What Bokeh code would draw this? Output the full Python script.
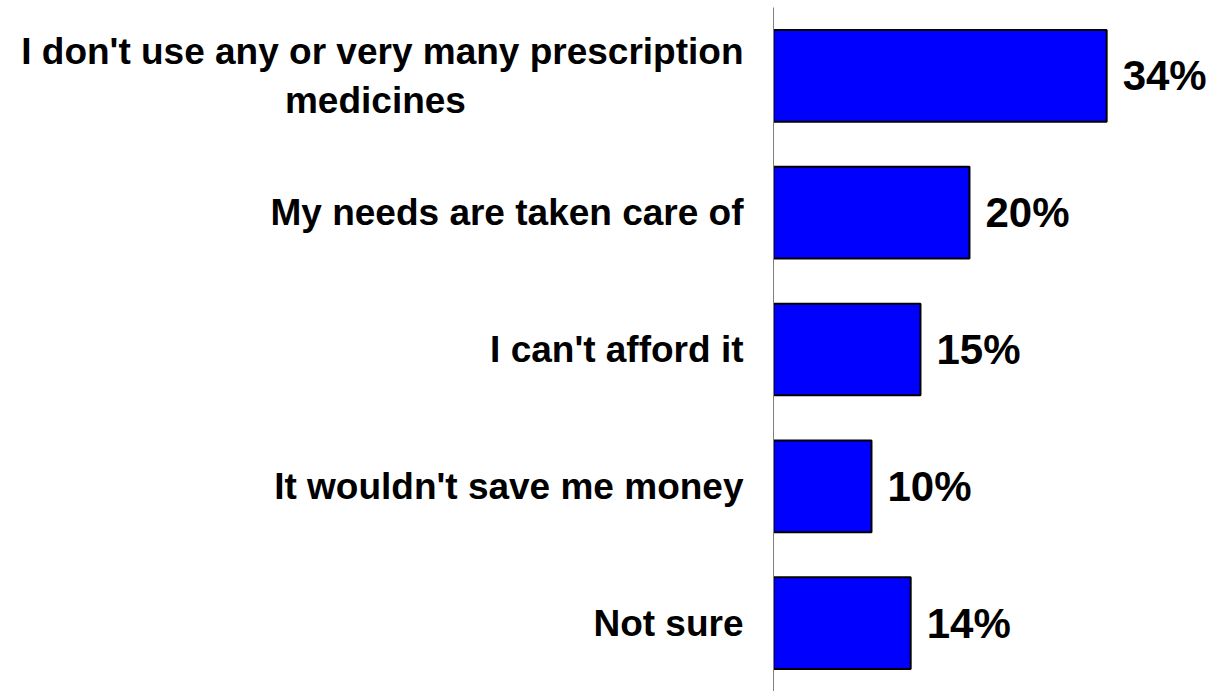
from bokeh.plotting import figure
from bokeh.models import ColumnDataSource, FactorRange, Range1d
from bokeh.embed import file_html
from bokeh.resources import INLINE
from bokeh.core.properties import value

NB = "\u00a0"
categories = [
    "I don't use any or very many prescription\nmedicines" + NB * 27,
    "My needs are taken care of",
    "I can't afford it",
    "It wouldn't save me money",
    "Not sure",
]
values = [34, 20, 15, 10, 14]
labels = ["34%", "20%", "15%", "10%", "14%"]

src = ColumnDataSource(dict(cat=categories, val=values, lab=labels))

p = figure(
    width=1211, height=691,
    y_range=FactorRange(*reversed(categories)),
    x_range=Range1d(0, 44.7),
    output_backend="svg", toolbar_location=None,
    min_border_left=773, min_border_right=0, min_border_top=7, min_border_bottom=0,
)
p.hbar(y="cat", right="val", left=0, height=0.67, source=src,
       fill_color="#0000FF", line_color="black", line_width=2)
p.text(x="val", y="cat", text="lab", source=src, x_offset=16,
       text_align="left", text_baseline="middle",
       text_font=value("Liberation Sans"), text_font_style="bold",
       text_font_size="42px", text_color="black")

p.xaxis.visible = False
p.yaxis.axis_line_color = "#808080"
p.yaxis.axis_line_width = 1
p.yaxis.major_tick_line_color = None
p.yaxis.minor_tick_line_color = None
p.yaxis.major_label_standoff = 24
p.yaxis.major_label_text_font = "Liberation Sans"
p.yaxis.major_label_text_font_style = "bold"
p.yaxis.major_label_text_font_size = "37px"
p.yaxis.major_label_text_color = "black"
p.grid.visible = False
p.outline_line_color = None
p.y_range.range_padding = 0

open("out.html", "w").write(file_html(p, INLINE))
